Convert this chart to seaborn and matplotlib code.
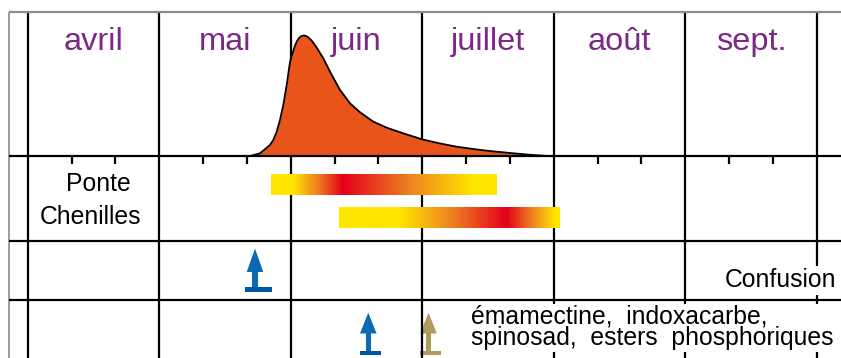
import numpy as np
import pandas as pd
import matplotlib
matplotlib.use("Agg")
import matplotlib.pyplot as plt
import seaborn as sns
from matplotlib.colors import LinearSegmentedColormap
from matplotlib.patches import Polygon, Rectangle

# ---------------- data ----------------
months = ["avril", "mai", "juin", "juillet", "août", "sept."]

# flight curve (x in months from 1st April, y relative abundance 0-100)
flight_x = [1.6905, 1.7665, 1.8426, 1.8677, 1.8935, 1.9186, 1.9437, 1.9696, 1.9947,
            2.0099, 2.0251, 2.0441, 2.0631, 2.0821, 2.1011, 2.1202, 2.1392, 2.1582,
            2.1772, 2.2000, 2.2228, 2.2479, 2.2989, 2.3749, 2.4510, 2.5270, 2.6281,
            2.7300, 2.8312, 2.9962, 3.1354, 3.2624, 3.4015, 3.5156, 3.6677, 3.8198,
            3.9567]
flight_y = [0.0, 2.2, 9.1, 13.3, 20.2, 29.9, 42.3, 58.9, 78.0,
            83.8, 89.2, 94.6, 97.9, 99.6, 100.0, 99.4, 97.9, 95.9,
            93.2, 89.6, 85.5, 81.1, 70.0, 54.8, 43.7, 36.3, 28.5,
            23.5, 19.7, 13.9, 10.4, 7.7, 5.6, 4.1, 2.5, 1.0,
            0.0]

# stage bars: start, end of pure yellow, peak (red), return to yellow, end
stage_labels = ["Ponte", "Chenilles"]
stage_start = [1.851, 2.368]
stage_plateau = [2.018, 2.831]
stage_peak = [2.398, 3.645]
stage_fade = [3.386, 4.017]
stage_end = [3.569, 4.048]

# treatments (date in months)
confusion_dates = [1.7285]
insecticide_dates = [2.590, 3.048]
insecticide_colors = ["#0A6BB4", "#B09A5C"]
confusion_label = "Confusion"
insecticide_lines = ["émamectine,  indoxacarbe,", "spinosad,  esters  phosphoriques"]

# ---------------- style ----------------
sns.set_theme(style="white")
plt.rcParams["font.family"] = ["Liberation Sans", "DejaVu Sans"]

PX = 1 / 131.5  # months per pixel
X0 = -27.7 * PX
X1 = (841 - 27.7) * PX
XG = -18.4 * PX  # grey frame line

fig = plt.figure(figsize=(8.41, 3.58), dpi=100)
ax = fig.add_axes([0, 0, 1, 1])
ax.set_axis_off()

LW = 1.6
# frame / grid
ax.vlines(range(len(months) + 1), 12, 358, color="black", lw=LW, zorder=3)
ax.vlines(XG, 12, 358, color="#8c8c8c", lw=1.2, zorder=3)
ax.hlines(12, XG, X1 + 0.2, color="#8c8c8c", lw=1.6, zorder=3)
ax.hlines([156, 241, 299.5], XG, X1 + 0.2, color="black", lw=LW, zorder=8)
ticks = [m + f for m in range(len(months)) for f in (1 / 3, 2 / 3)]
ax.vlines(ticks, 156, 164, color="black", lw=LW, zorder=3)

# month labels
for i, m in enumerate(months):
    ax.text(i + 0.5, 50, m, ha="center", va="baseline", fontsize=23.4,
            color="#7B2886", zorder=5)

# flight curve
df = pd.DataFrame({"mois": flight_x, "vol": flight_y})
df["ypx"] = 156 - df["vol"] * 1.205
ax.fill_between(df["mois"], 156, df["ypx"], color="#E8541A", lw=0, zorder=4)
sns.lineplot(data=df, x="mois", y="ypx", ax=ax, color="black", lw=1.3,
             sort=False, zorder=4.5, legend=False)

# stage bars with gradient
cmap = LinearSegmentedColormap.from_list(
    "stage", [(0, "#FFE600"), (0.5, "#EE7E22"), (1, "#E3001B")])
bar_rows = [(174, 195), (207, 228)]
for i in range(len(stage_labels)):
    s, p0, pk, f, e = stage_start[i], stage_plateau[i], stage_peak[i], stage_fade[i], stage_end[i]
    xs = np.linspace(s, e, 600)
    inten = np.interp(xs, [s, p0, pk, f, e], [0, 0, 1, 0, 0])
    top, bot = bar_rows[i]
    ax.imshow(inten[None, :], cmap=cmap, vmin=0, vmax=1, aspect="auto",
              extent=(s, e, bot, top), interpolation="bilinear", zorder=6)

ax.text(0.535, 190.7, stage_labels[0], ha="center", va="baseline", fontsize=17.8,
        color="black", zorder=5)
ax.text(0.478, 224, stage_labels[1], ha="center", va="baseline", fontsize=17.8,
        color="black", zorder=5)


def arrow(cx, head_top, head_bot, bar_top, bar_bot, bl, br, color, bar_color, z):
    hw, sw = 8.3 * PX, 2.7 * PX
    ax.add_patch(Polygon([(cx - hw, head_bot), (cx + hw, head_bot), (cx, head_top)],
                         closed=True, fc=color, ec="none", zorder=z))
    ax.add_patch(Rectangle((cx - sw, head_bot - 0.5), 2 * sw, bar_top - head_bot + 1,
                           fc=color, ec="none", zorder=z))
    ax.add_patch(Rectangle((cx + bl * PX, bar_top), (br - bl) * PX, bar_bot - bar_top,
                           fc=bar_color, ec="none", zorder=z))


for d in confusion_dates:
    arrow(d, 248.5, 272, 287, 292, -10, 16.7, "#0A6BB4", "#0057A1", 6)
for d, c in zip(insecticide_dates, insecticide_colors):
    bc = "#0057A1" if c == "#0A6BB4" else c
    arrow(d, 312.7, 333.5, 350.7, 354.5, -8.5, 12.5, c, bc, 6 if c == "#0A6BB4" else 2)

ax.text(6.152, 287.3, confusion_label, ha="right", va="baseline", fontsize=17.8,
        color="black", bbox=dict(fc="white", ec="none", pad=2), zorder=7)

# white background behind the insecticide label block
tx = 3.369
ax.add_patch(Rectangle((tx - 5 * PX, 304), X1 + 0.2 - (tx - 5 * PX), 48,
                       fc="white", ec="none", zorder=6.5))
ax.text(tx, 323.3, insecticide_lines[0], ha="left", va="baseline", fontsize=17.8,
        color="black", zorder=7)
ax.text(tx, 345, insecticide_lines[1], ha="left", va="baseline", fontsize=17.8,
        color="black", zorder=7)

ax.set_xlim(X0, X1)
ax.set_ylim(358, 0)
fig.savefig("out.png", dpi=100)
